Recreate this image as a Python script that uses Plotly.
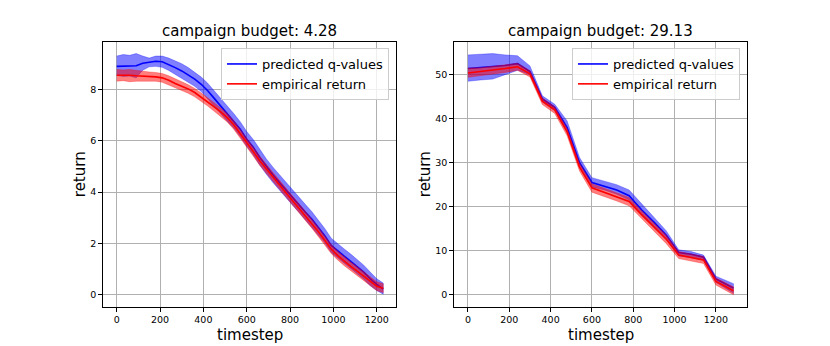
import plotly.graph_objects as go

# ---------------- data ----------------
titles = ["campaign budget: 4.28", "campaign budget: 29.13"]
series_names = ["predicted q-values", "empirical return"]

left_x = [0, 30, 60, 90, 120, 150, 180, 210, 240, 270, 300, 330, 360, 390, 420, 450,
          480, 510, 540, 570, 600, 630, 660, 690, 720, 750, 780, 810, 840, 870, 900,
          930, 960, 990, 1020, 1050, 1080, 1110, 1140, 1170, 1200, 1230]
left_q_mean = [8.90, 8.90, 8.91, 8.92, 9.02, 9.05, 9.10, 9.08, 8.98, 8.85, 8.72, 8.57,
               8.40, 8.20, 7.95, 7.65, 7.35, 7.05, 6.78, 6.45, 6.06, 5.75, 5.35, 5.00,
               4.68, 4.38, 4.08, 3.80, 3.52, 3.22, 2.95, 2.62, 2.30, 1.92, 1.70, 1.50,
               1.30, 1.10, 0.88, 0.62, 0.40, 0.22]
left_q_upper = [9.30, 9.36, 9.33, 9.40, 9.30, 9.22, 9.30, 9.30, 9.22, 9.12, 9.00, 8.85,
                8.68, 8.48, 8.24, 7.95, 7.64, 7.34, 7.06, 6.74, 6.36, 6.05, 5.65, 5.30,
                4.98, 4.68, 4.38, 4.10, 3.82, 3.52, 3.24, 2.92, 2.58, 2.20, 1.98, 1.78,
                1.58, 1.38, 1.15, 0.88, 0.62, 0.45]
left_q_lower = [8.55, 8.50, 8.52, 8.45, 8.75, 8.88, 8.90, 8.86, 8.74, 8.58, 8.44, 8.28,
                8.12, 7.92, 7.66, 7.36, 7.06, 6.76, 6.50, 6.16, 5.78, 5.45, 5.05, 4.70,
                4.38, 4.08, 3.78, 3.50, 3.22, 2.92, 2.66, 2.32, 2.02, 1.64, 1.42, 1.22,
                1.02, 0.82, 0.60, 0.35, 0.16, 0.02]
left_r_mean = [8.55, 8.56, 8.55, 8.53, 8.52, 8.50, 8.49, 8.45, 8.36, 8.23, 8.14, 8.02,
               7.88, 7.70, 7.52, 7.32, 7.12, 6.90, 6.62, 6.28, 5.95, 5.58, 5.22, 4.90,
               4.60, 4.30, 3.98, 3.68, 3.38, 3.08, 2.78, 2.46, 2.12, 1.78, 1.52, 1.30,
               1.10, 0.92, 0.72, 0.52, 0.33, 0.25]
left_r_upper = [8.78, 8.76, 8.78, 8.74, 8.72, 8.68, 8.66, 8.62, 8.53, 8.40, 8.30, 8.18,
                8.04, 7.86, 7.68, 7.48, 7.28, 7.06, 6.78, 6.45, 6.12, 5.75, 5.40, 5.07,
                4.77, 4.47, 4.15, 3.85, 3.55, 3.25, 2.95, 2.63, 2.29, 1.95, 1.69, 1.47,
                1.27, 1.09, 0.89, 0.69, 0.50, 0.42]
left_r_lower = [8.32, 8.34, 8.30, 8.32, 8.33, 8.32, 8.32, 8.28, 8.19, 8.06, 7.96, 7.85,
                7.71, 7.53, 7.35, 7.15, 6.95, 6.73, 6.45, 6.10, 5.76, 5.40, 5.04, 4.72,
                4.42, 4.12, 3.80, 3.50, 3.20, 2.90, 2.60, 2.28, 1.94, 1.60, 1.35, 1.13,
                0.93, 0.75, 0.55, 0.35, 0.16, 0.08]

right_x = [0, 60, 120, 180, 240, 300, 360, 420, 480, 540, 600, 660, 720, 780, 840,
           900, 960, 1020, 1080, 1140, 1200, 1285]
right_q_mean = [51.4, 51.6, 51.8, 52.1, 52.5, 50.7, 44.5, 42.6, 38.0, 30.0, 25.5, 24.6,
                23.8, 22.5, 19.3, 16.5, 13.5, 9.6, 9.2, 8.5, 3.6, 1.5]
right_q_upper = [54.5, 54.6, 54.8, 54.5, 54.3, 52.0, 45.2, 43.3, 39.5, 31.2, 26.6, 25.8,
                 25.0, 23.8, 20.6, 17.6, 14.5, 10.2, 9.8, 9.0, 4.2, 2.5]
right_q_lower = [48.5, 48.8, 49.0, 50.0, 51.0, 50.0, 43.8, 41.8, 37.0, 29.0, 24.5, 23.8,
                 22.8, 21.5, 18.3, 15.5, 12.5, 8.8, 8.4, 7.8, 2.8, 0.3]
right_r_mean = [50.4, 50.7, 51.0, 51.4, 51.8, 50.2, 44.0, 42.0, 37.0, 29.0, 24.3, 23.3,
                22.3, 21.2, 18.2, 15.4, 12.6, 9.0, 8.5, 7.9, 3.0, 0.9]
right_r_upper = [51.5, 51.6, 51.9, 52.2, 52.6, 50.9, 44.7, 42.7, 37.8, 29.9, 25.2, 24.2,
                 23.2, 22.1, 19.1, 16.3, 13.5, 9.8, 9.3, 8.7, 3.8, 1.8]
right_r_lower = [49.4, 49.7, 50.1, 50.5, 51.0, 49.5, 43.2, 41.2, 36.1, 28.1, 23.3, 22.3,
                 21.3, 20.2, 17.2, 14.4, 11.6, 8.2, 7.7, 7.1, 2.2, 0.0]

x_ticks = [0, 200, 400, 600, 800, 1000, 1200]
left_y_ticks = [0, 2, 4, 6, 8]
right_y_ticks = [0, 10, 20, 30, 40, 50]

# ---------------- figure ----------------
W, H = 830, 346
FONT = "DejaVu Sans"
BLUE, RED = "#0000ff", "#ff0000"
BLUE_F, RED_F = "rgba(0,0,255,0.5)", "rgba(255,0,0,0.5)"

fig = go.Figure()

panels = [
    dict(x=left_x, qm=left_q_mean, qu=left_q_upper, ql=left_q_lower,
         rm=left_r_mean, ru=left_r_upper, rl=left_r_lower, xa="x", ya="y", legend="legend"),
    dict(x=right_x, qm=right_q_mean, qu=right_q_upper, ql=right_q_lower,
         rm=right_r_mean, ru=right_r_upper, rl=right_r_lower, xa="x2", ya="y2", legend="legend2"),
]

for p in panels:
    xs = p["x"]
    for mean, up, lo, col, fcol, name in [
        (p["qm"], p["qu"], p["ql"], BLUE, BLUE_F, series_names[0]),
        (p["rm"], p["ru"], p["rl"], RED, RED_F, series_names[1]),
    ]:
        fig.add_trace(go.Scatter(
            x=list(xs) + list(xs)[::-1], y=list(up) + list(lo)[::-1],
            fill="toself", fillcolor=fcol, line=dict(width=0.6, color=fcol),
            mode="lines", showlegend=False, hoverinfo="skip",
            xaxis=p["xa"], yaxis=p["ya"]))
        fig.add_trace(go.Scatter(
            x=xs, y=mean, mode="lines", name=name,
            line=dict(color=col, width=1.6),
            xaxis=p["xa"], yaxis=p["ya"], legend=p["legend"]))

# axes geometry (px)
L1, R1 = 103.3, 396.0
L2, R2 = 454.3, 746.7
TOP, BOT = 41.7, 306.7

axis_common = dict(
    showline=True, linecolor="black", linewidth=1, mirror=True,
    ticks="outside", ticklen=4, tickcolor="black", tickwidth=1,
    showgrid=True, gridcolor="#b0b0b0", gridwidth=1, zeroline=False,
    tickfont=dict(family=FONT, size=9.5, color="black"), automargin=False,
)

fig.update_layout(
    width=W, height=H,
    margin=dict(l=0, r=0, t=0, b=0),
    paper_bgcolor="white", plot_bgcolor="white",
    xaxis=dict(domain=[L1 / W, R1 / W], range=[-62, 1289], tickvals=x_ticks,
               anchor="y", **axis_common),
    yaxis=dict(domain=[1 - BOT / H, 1 - TOP / H], range=[-0.47, 9.86],
               tickvals=left_y_ticks, anchor="x", **axis_common),
    xaxis2=dict(domain=[L2 / W, R2 / W], range=[-66, 1349], tickvals=x_ticks,
                anchor="y2", **axis_common),
    yaxis2=dict(domain=[1 - BOT / H, 1 - TOP / H], range=[-2.73, 57.5],
                tickvals=right_y_ticks, anchor="x2", **axis_common),
    legend=dict(x=389 / W, y=1 - 48 / H, xanchor="right", yanchor="top",
                bgcolor="rgba(255,255,255,0.8)", bordercolor="#cccccc", borderwidth=1,
                font=dict(family=FONT, size=13, color="black"), tracegroupgap=0,
                itemwidth=30),
    legend2=dict(x=740 / W, y=1 - 48 / H, xanchor="right", yanchor="top",
                 bgcolor="rgba(255,255,255,0.8)", bordercolor="#cccccc", borderwidth=1,
                 font=dict(family=FONT, size=13, color="black"), tracegroupgap=0,
                 itemwidth=30),
    showlegend=True,
)

annos = []
for (l, r, t) in [(L1, R1, titles[0]), (L2, R2, titles[1])]:
    cx = (l + r) / 2 / W
    annos.append(dict(text=t, x=cx, y=1 - 31 / H, xref="paper", yref="paper",
                      xanchor="center", yanchor="middle", showarrow=False,
                      font=dict(family=FONT, size=15, color="black")))
    annos.append(dict(text="timestep", x=cx, y=1 - 335 / H, xref="paper", yref="paper",
                      xanchor="center", yanchor="middle", showarrow=False,
                      font=dict(family=FONT, size=15, color="black")))
for cx in [80, 425]:
    annos.append(dict(text="return", x=cx / W, y=1 - ((TOP + BOT) / 2) / H,
                      xref="paper", yref="paper", xanchor="center", yanchor="middle",
                      textangle=-90, showarrow=False,
                      font=dict(family=FONT, size=15, color="black")))
fig.update_layout(annotations=annos)

fig.write_html("out.html", config={"displayModeBar": False},
               post_script="document.body.style.margin='0';document.body.style.overflow='hidden';")
